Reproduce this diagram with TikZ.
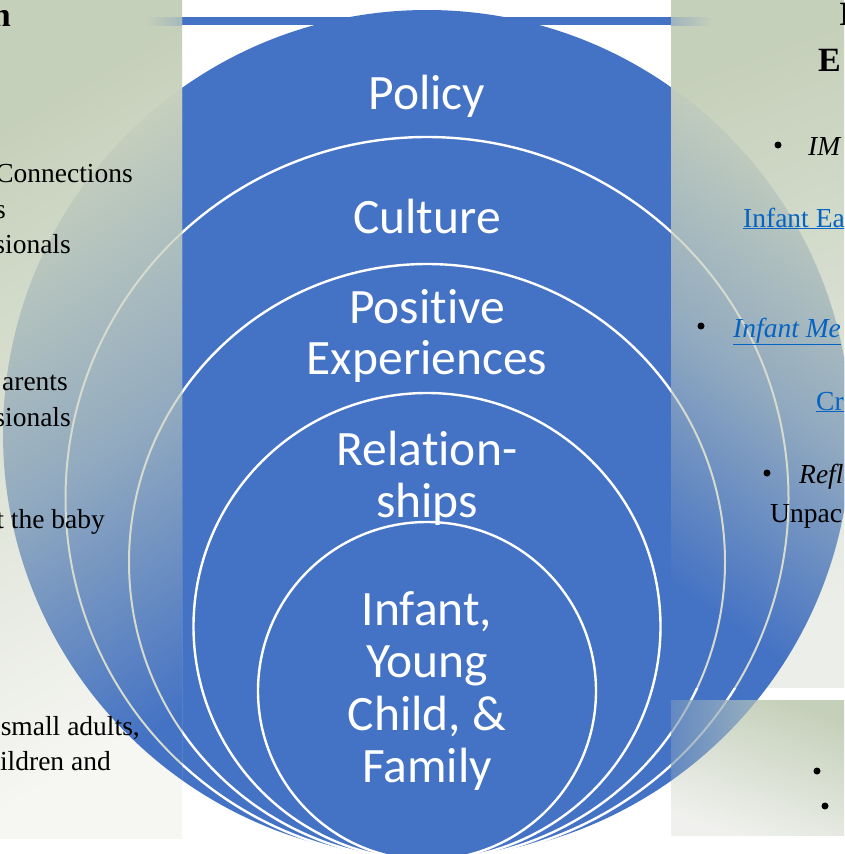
\documentclass[tikz,border=0pt]{standalone}
\usepackage{fontspec}
\setmainfont{Liberation Serif}
\newfontfamily\carl[Ligatures={NoCommon}]{Carlito}
\definecolor{cblue}{RGB}{68,114,196}
\definecolor{pgreen}{RGB}{197,208,186}
\definecolor{pwhite}{RGB}{246,246,243}
\definecolor{pwhiteb}{RGB}{236,238,233}
\definecolor{pbotr}{RGB}{240,241,238}
\definecolor{ltop}{RGB}{197,207,189}
\definecolor{linkblue}{RGB}{5,99,193}
\definecolor{arcgray}{RGB}{214,219,206}
\begin{document}
\begin{tikzpicture}[x=1pt,y=-1pt,
  ctext/.style={font=\carl\fontsize{49.5}{52}\selectfont, text=white, inner sep=0pt, anchor=base},
  ltext/.style={font=\fontsize{27.5}{32}\selectfont, text=black, inner sep=0pt, anchor=base east},
  rtext/.style={font=\fontsize{27.5}{32}\selectfont, text=black, inner sep=0pt, anchor=base west},
  ttext/.style={font=\bfseries\fontsize{34}{40}\selectfont, text=black, inner sep=0pt},
  ring/.style={draw=white, line width=2.4pt},
  pring/.style={draw=arcgray, line width=2pt},
  bulletdot/.style={fill=black, circle, inner sep=0pt, minimum size=7pt}
]
\useasboundingbox (0,0) rectangle (844,854);
\clip (0,0) rectangle (844,854);
\fill[white] (0,0) rectangle (844,854);

% named centres of the nested circles
\coordinate (policyC) at (427,434);
\coordinate (cultureC) at (427,498.5);
\coordinate (positiveC) at (427,562);
\coordinate (relC) at (427,626.5);
\coordinate (infantC) at (427,691);

% top bar
\fill[cblue] (182,17) rectangle (671,25);

% base circles
\fill[cblue] (policyC) circle[radius=424pt];
\draw[ring] (cultureC) circle[radius=361.5pt];
\draw[ring] (positiveC) circle[radius=298pt];
\draw[ring] (relC) circle[radius=233.5pt];
\draw[ring] (infantC) circle[radius=169pt];

% left panel
\begin{scope}
  \clip (0,0) rectangle (182,838);
  \shade[top color=pgreen, bottom color=pwhite, shading angle=30] (0,0) rectangle (182,838);
  \begin{scope}
    \clip (policyC) circle[radius=424pt];
    \shade[top color=ltop, bottom color=cblue, middle color=cblue!40!ltop, shading angle=33] (0,88) rectangle (182,838);
  \end{scope}
  \draw[pring] (cultureC) circle[radius=361.5pt];
  \draw[pring] (positiveC) circle[radius=298pt];
\end{scope}

% upper right panel
\begin{scope}
  \clip (671,0) rectangle (844,687);
  \shade[top color=pgreen, bottom color=pwhiteb, shading angle=20] (671,0) rectangle (844,687);
  \begin{scope}
    \clip (policyC) circle[radius=424pt];
    \shade[top color=ltop, bottom color=cblue, middle color=cblue!40!ltop, shading angle=-36] (671,87) rectangle (844,687);
  \end{scope}
  \draw[pring] (cultureC) circle[radius=361.5pt];
  \draw[pring] (positiveC) circle[radius=298pt];
\end{scope}

% lower right panel
\begin{scope}
  \clip (671,700) rectangle (844,835);
  \shade[top color=pgreen, bottom color=pbotr, shading angle=-20] (671,700) rectangle (844,835);
  \begin{scope}
    \clip (policyC) circle[radius=424pt];
    \shade[left color=cblue!75!pgreen, right color=cblue!30!pgreen] (671,700) rectangle (770,790);
  \end{scope}
  \draw[pring, opacity=0.6] (cultureC) circle[radius=361.5pt];
  \draw[pring, opacity=0.6] (positiveC) circle[radius=298pt];
\end{scope}

% faded bar ends
\shade[left color=pgreen, right color=cblue!25!pgreen] (145,17) rectangle (182,25);
\shade[left color=cblue!30!pgreen, right color=pgreen] (671,17) rectangle (712,25);

% centre labels
\node[ctext] (policy) at (427,109) {Policy};
\node[ctext] (culture) at (427,233) {Culture};
\node[ctext] (pos1) at (427,323) {Positive};
\node[ctext] (pos2) at (427,374) {Experiences};
\node[ctext] (rel1) at (427,465) {Relation-};
\node[ctext] (rel2) at (427,517) {ships};
\node[ctext] (inf1) at (427,625) {Infant,};
\node[ctext] (inf2) at (427,677) {Young};
\node[ctext] (inf3) at (427,730) {Child, \&};
\node[ctext] (inf4) at (427,782) {Family};

% left panel text
\node[ttext, anchor=base east] (ltitle) at (11,26) {n};
\node[ltext] (l1) at (133,182) {Connections};
\node[ltext] (l2) at (6,218) {s};
\node[ltext] (l3) at (71,253) {sionals};
\node[ltext] (l4) at (68,390) {arents};
\node[ltext] (l5) at (71,426) {sionals};
\node[ltext] (l6) at (105,528) {t the baby};
\node[ltext] (l7) at (140,735) {small adults,};
\node[ltext] (l8) at (111,770) {ildren and};

% right panel text
\node[ttext, anchor=base west] (rtitle1) at (839,25) {I};
\node[ttext, anchor=base west] (rtitle2) at (818,71) {E};
\node[bulletdot] (rb1) at (778,145) {};
\node[rtext, font=\itshape\fontsize{27.5}{32}\selectfont] (r1) at (808,155) {IM};
\node[rtext, text=linkblue] (r2) at (743,227) {\underline{Infant Ea}};
\node[bulletdot] (rb2) at (701,326) {};
\node[rtext, text=linkblue, font=\itshape\fontsize{27.5}{32}\selectfont] (r3) at (733,337) {\underline{Infant Me}};
\node[rtext, text=linkblue] (r4) at (816,410) {\underline{Cr}};
\node[bulletdot] (rb3) at (767,473) {};
\node[rtext, font=\itshape\fontsize{27.5}{32}\selectfont] (r5) at (799,483) {Refl};
\node[rtext] (r6) at (770,522) {Unpac};
\node[bulletdot] (rb4) at (817,771) {};
\node[bulletdot] (rb5) at (825,806) {};
\end{tikzpicture}
\end{document}
